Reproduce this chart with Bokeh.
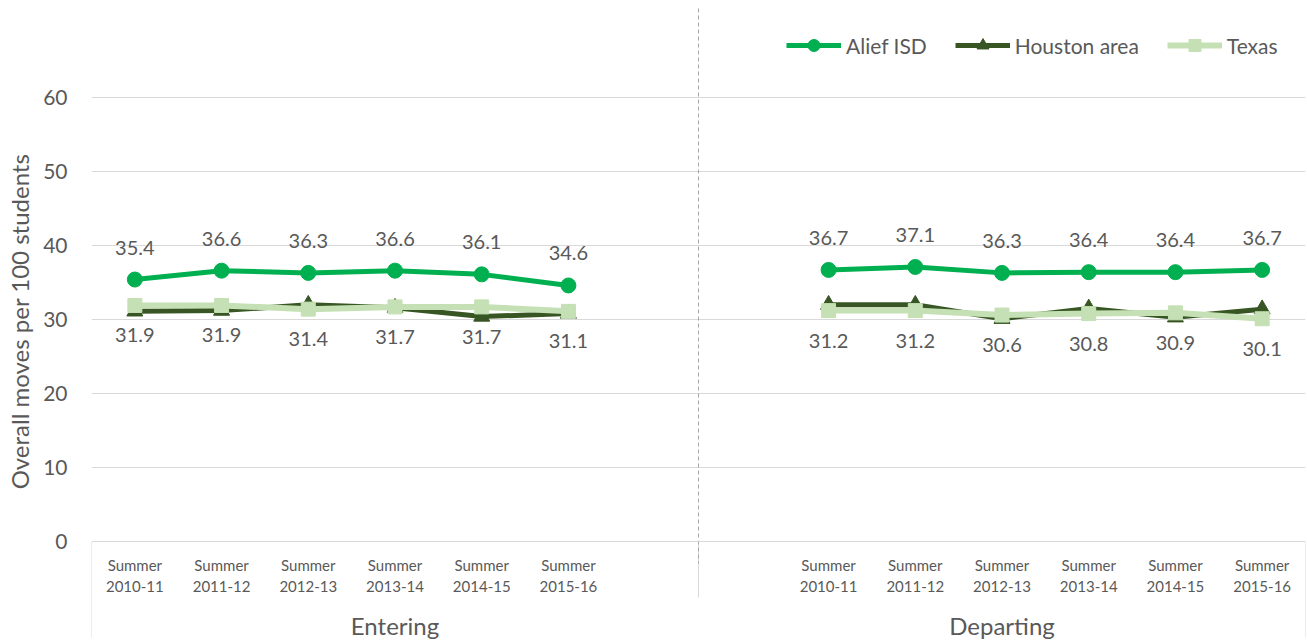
from bokeh.plotting import figure
from bokeh.models import (Range1d, FixedTicker, Legend, LegendItem,
                          Span, ColumnDataSource)
from bokeh.embed import file_html
from bokeh.resources import INLINE
from bokeh.core.properties import value

# ---------------- data ----------------
groups = ["Entering", "Departing"]
periods = ["Summer\n2010-11", "Summer\n2011-12", "Summer\n2012-13",
           "Summer\n2013-14", "Summer\n2014-15", "Summer\n2015-16"]
series_names = ["Alief ISD", "Houston area", "Texas"]

alief_entering = [35.4, 36.6, 36.3, 36.6, 36.1, 34.6]
alief_departing = [36.7, 37.1, 36.3, 36.4, 36.4, 36.7]
houston_entering = [31.1, 31.2, 32.0, 31.6, 30.4, 30.8]
houston_departing = [32.0, 32.0, 30.1, 31.5, 30.3, 31.4]
texas_entering = [31.9, 31.9, 31.4, 31.7, 31.7, 31.1]
texas_departing = [31.2, 31.2, 30.6, 30.8, 30.9, 30.1]

y_ticks = [0, 10, 20, 30, 40, 50, 60]

# ---------------- layout helpers ----------------
W, H = 1307, 642
PX = 7.4                       # pixels per y unit
ZERO_PX = 541                  # y=0 position from top of figure
SLOTS = 7                      # slots per group (one left blank)
group_offsets = [0, 1]         # entering: blank slot at end, departing: blank at start

def xs_for(g):
    return [g * SLOTS + group_offsets[g] + i + 0.5 for i in range(len(periods))]

TEXT = "#595959"
FONT = "Lato"
GRID = "#d9d9d9"
colors = ["#00b050", "#375623", "#c5e0b4"]
markers = ["circle", "triangle", "square"]
msizes = [15, 16, 14]
lwidths = [5, 5, 6]

p = figure(width=W, height=H, output_backend="svg", toolbar_location=None,
           x_range=Range1d(0, 2 * SLOTS),
           y_range=Range1d(-(H - ZERO_PX) / PX, ZERO_PX / PX),
           min_border_left=91, min_border_right=2, min_border_top=0,
           min_border_bottom=0, outline_line_color=None)
p.xaxis.visible = False
p.xgrid.visible = False

# y axis
p.yaxis.ticker = FixedTicker(ticks=y_ticks)
p.yaxis.axis_line_color = None
p.yaxis.major_tick_line_color = None
p.yaxis.major_tick_out = 0
p.yaxis.major_tick_in = 0
p.yaxis.minor_tick_line_color = None
p.yaxis.minor_tick_out = 0
p.yaxis.major_label_standoff = 24
p.yaxis.major_label_text_font = FONT
p.yaxis.major_label_text_font_size = "21px"
p.yaxis.major_label_text_color = TEXT
p.yaxis.axis_label = "Overall moves per 100 students"
p.yaxis.axis_label_standoff = 6
p.yaxis.axis_label_text_font = FONT
p.yaxis.axis_label_text_font_style = "normal"
p.yaxis.axis_label_text_font_size = "24px"
p.yaxis.axis_label_text_color = TEXT
p.ygrid.ticker = FixedTicker(ticks=y_ticks[1:])
p.ygrid.grid_line_color = GRID
p.ygrid.grid_line_width = 1

# category axis line and separators (drawn in the frame)
p.add_layout(Span(location=0, dimension="width", line_color=GRID, line_width=1))
sep_x = [0, SLOTS, 2 * SLOTS]
sep_len = [96, 56, 96]
p.segment(x0=sep_x, y0=[0] * 3, x1=sep_x, y1=[-l / PX for l in sep_len],
          line_color=GRID, line_width=1)

# dashed divider between groups
p.segment(x0=[SLOTS], y0=[(ZERO_PX - 8) / PX], x1=[SLOTS], y1=[-22 / PX],
          line_color="#a6a6a6", line_width=1, line_dash="4 3")

# first level category labels
tick_pos = xs_for(0) + xs_for(1)
p.text(tick_pos, [0] * len(tick_pos), text=periods + periods, y_offset=14,
       text_align="center", text_baseline="top", text_font=value(FONT),
       text_font_size="15px", text_color=TEXT, text_line_height=1.2)

# second level group labels
g_pos = [g * SLOTS + SLOTS / 2 for g in range(len(groups))]
p.text(g_pos, [0] * len(g_pos), text=groups, y_offset=84,
       text_align="center", text_baseline="middle", text_font=value(FONT),
       text_font_size="24px", text_color=TEXT)

# series
all_series = [
    (alief_entering, alief_departing),
    (houston_entering, houston_departing),
    (texas_entering, texas_departing),
]
items = []
for k, (ent, dep) in enumerate(all_series):
    rends = []
    for g, vals in enumerate([ent, dep]):
        src = ColumnDataSource(dict(x=xs_for(g), y=vals))
        lr = p.line("x", "y", source=src, line_color=colors[k], line_width=lwidths[k],
                    line_join="round")
        sr = p.scatter("x", "y", source=src, marker=markers[k], size=msizes[k],
                       fill_color=colors[k], line_color=colors[k])
        if g == 0:
            rends = [lr, sr]
    items.append(LegendItem(label=series_names[k], renderers=rends))

# data labels: Alief above, Texas below
for g, vals in enumerate([alief_entering, alief_departing]):
    p.text(xs_for(g), vals, text=[f"{v:.1f}" for v in vals], y_offset=-32,
           text_align="center", text_baseline="middle", text_font=value(FONT),
           text_font_size="20px", text_color=TEXT)
for g, vals in enumerate([texas_entering, texas_departing]):
    p.text(xs_for(g), vals, text=[f"{v:.1f}" for v in vals], y_offset=30,
           text_align="center", text_baseline="middle", text_font=value(FONT),
           text_font_size="20px", text_color=TEXT)

legend = Legend(items=items, orientation="horizontal", location=(695, 582),
                glyph_width=55, glyph_height=30, label_standoff=5, spacing=28,
                padding=0, margin=0, border_line_color=None,
                background_fill_alpha=0, label_text_font=FONT,
                label_text_font_size="21px", label_text_color=TEXT)
p.add_layout(legend)

open("out.html", "w").write(file_html(p, INLINE))
